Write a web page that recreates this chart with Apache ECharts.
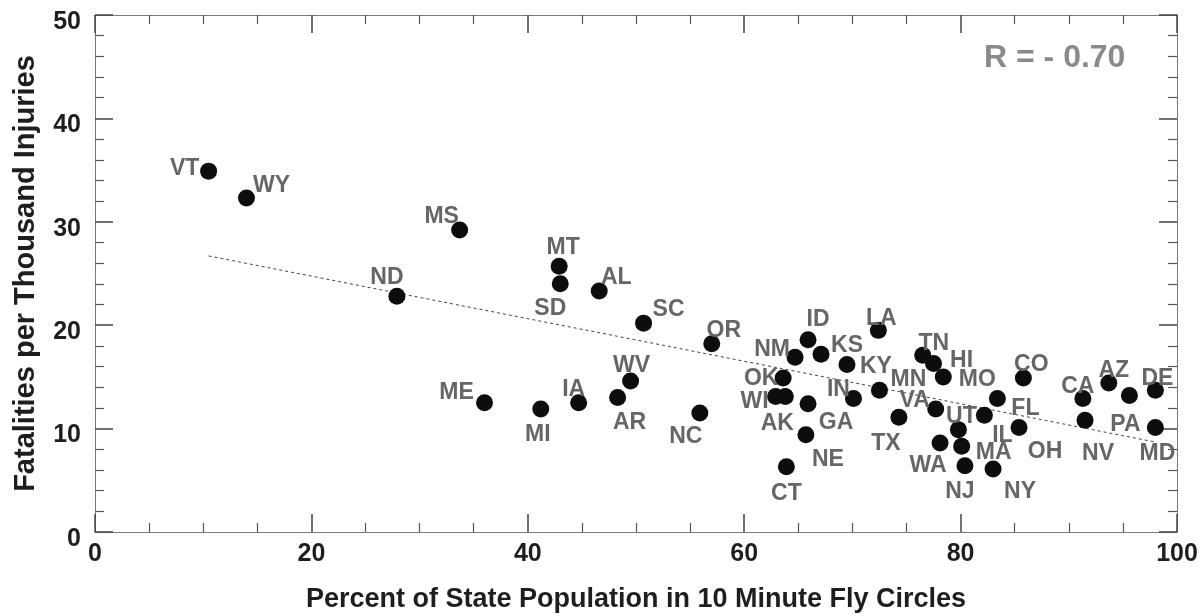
<!DOCTYPE html>
<html>
<head>
<meta charset="utf-8">
<script src="https://cdn.jsdelivr.net/npm/echarts@6/dist/echarts.min.js"></script>
<style>
html,body{margin:0;padding:0;background:#fff;}
#chart{width:1202px;height:616px;}
</style>
</head>
<body>
<div id="chart"></div>
<script>
// ---- data ----
var states = ['VT','WY','MS','ND','MT','SD','AL','SC','OR','WV','ME','MI','IA','AR','NC',
  'ID','NM','KS','KY','OK','WI','AK','GA','NE','CT','IN','MN','LA','TX','TN','HI','MO',
  'FL','IL','OH','VA','UT','WA','MA','NJ','NY','CO','CA','NV','AZ','PA','MD','DE'];
var pctInFlyCircles = [10.5,14.0,33.7,27.9,42.9,43.0,46.6,50.7,57.0,49.5,36.0,41.2,44.7,48.3,55.9,
  65.9,64.7,67.1,69.5,63.6,62.9,63.8,65.9,65.7,63.9,70.1,72.5,72.4,74.3,76.5,77.5,78.4,
  83.4,82.2,85.4,77.7,79.8,78.1,80.1,80.4,83.0,85.8,91.3,91.5,93.7,95.6,98.0,98.0];
var fatalitiesPerThousand = [34.9,32.3,29.2,22.8,25.7,24.0,23.3,20.2,18.2,14.6,12.5,11.9,12.5,13.0,11.5,
  18.6,16.9,17.2,16.2,14.9,13.1,13.1,12.4,9.4,6.3,12.9,13.7,19.5,11.1,17.1,16.3,15.0,
  12.9,11.3,10.1,11.9,9.9,8.6,8.3,6.4,6.1,14.9,12.9,10.8,14.4,13.2,10.1,13.7];
var trendX = [10.5, 98.0];
var trendY = [26.7, 8.7];
var xTicks = [0, 20, 40, 60, 80, 100];
var yTicks = [0, 10, 20, 30, 40, 50];
var rText = 'R = - 0.70';

// ---- label placement (style, pixel offsets from each dot) ----
var labelOffsets = {
  VT:[-24,-2], WY:[25,-12], MS:[-18,-13], ND:[-10,-19], MT:[4,-19], SD:[-10,25], AL:[17,-13],
  SC:[25,-13], OR:[12,-13], WV:[1,-15], ME:[-28,-10], MI:[-3,26], IA:[-5,-13], AR:[12,25],
  NC:[-14,24], ID:[10,-20], NM:[-23,-8], KS:[26,-8], KY:[29,2], OK:[-22,1], WI:[-21,5],
  AK:[-8,27], GA:[28,19], NE:[22,25], CT:[0,27], IN:[-15,-9], MN:[29,-11], LA:[3,-12],
  TX:[-13,26], TN:[11,-12], HI:[28,-3], MO:[34,3], FL:[28,10], IL:[18,20], OH:[26,24],
  VA:[-21,-8], UT:[3,-13], WA:[-12,23], MA:[32,6], NJ:[-5,26], NY:[27,23], CO:[8,-13],
  CA:[-5,-12], AZ:[5,-12], PA:[-4,29], DE:[2,-12], NV:[13,33], MD:[2,26]
};

var FONT = "'Liberation Sans', Arial, sans-serif";
var scatterData = states.map(function (s, i) {
  return {
    name: s,
    value: [pctInFlyCircles[i], fatalitiesPerThousand[i]],
    label: { offset: labelOffsets[s] || [0, -14] }
  };
});
var trendData = trendX.map(function (x, i) { return [x, trendY[i]]; });

function axisBase(showLabels, min, max, interval, minorSplit) {
  return {
    type: 'value', min: min, max: max, interval: interval,
    axisLine: { show: true, onZero: false, lineStyle: { color: '#7a7a7a', width: 1 } },
    axisTick: { show: true, inside: true, length: 18, lineStyle: { color: '#444', width: 1.5 } },
    minorTick: { show: true, splitNumber: minorSplit, length: 9, lineStyle: { color: '#555', width: 1.2 } },
    splitLine: { show: false },
    axisLabel: { show: showLabels }
  };
}

var xBottom = axisBase(true, xTicks[0], xTicks[xTicks.length - 1], xTicks[1] - xTicks[0], 4);
xBottom.position = 'bottom';
xBottom.name = 'Percent of State Population in 10 Minute Fly Circles';
xBottom.nameLocation = 'middle';
xBottom.nameGap = 54;
xBottom.nameTextStyle = { fontFamily: FONT, fontWeight: 'bold', fontSize: 27, color: '#1e1e1e' };
xBottom.axisLabel = { show: true, margin: 10, fontFamily: FONT, fontWeight: 'bold', fontSize: 25, color: '#1e1e1e' };
var xTop = axisBase(false, xTicks[0], xTicks[xTicks.length - 1], xTicks[1] - xTicks[0], 4);
xTop.position = 'top';

var yLeft = axisBase(true, yTicks[0], yTicks[yTicks.length - 1], yTicks[1] - yTicks[0], 5);
yLeft.position = 'left';
yLeft.name = 'Fatalities per Thousand Injuries';
yLeft.nameLocation = 'middle';
yLeft.nameGap = 55;
yLeft.nameTextStyle = { fontFamily: FONT, fontWeight: 'bold', fontSize: 29, color: '#1e1e1e' };
yLeft.axisLabel = { show: true, margin: 14, fontFamily: FONT, fontWeight: 'bold', fontSize: 25, color: '#1e1e1e', verticalAlign: 'top', lineHeight: 14 };
var yRight = axisBase(false, yTicks[0], yTicks[yTicks.length - 1], yTicks[1] - yTicks[0], 5);
yRight.position = 'right';

var chart = echarts.init(document.getElementById('chart'), null, { renderer: 'canvas' });
chart.setOption({
  animation: false,
  backgroundColor: '#ffffff',
  grid: { left: 95, right: 25, top: 15, bottom: 84, containLabel: false, outerBoundsMode: 'none' },
  xAxis: [xBottom, xTop],
  yAxis: [yLeft, yRight],
  graphic: [{
    type: 'text', left: 984, top: 42,
    style: { text: rText, fontFamily: FONT, fontWeight: 'bold', fontSize: 32, fill: '#8a8a8a' }
  }],
  series: [
    {
      type: 'line', xAxisIndex: 0, yAxisIndex: 0, data: trendData,
      symbol: 'none', silent: true, z: 1,
      lineStyle: { color: '#444', width: 1, type: [3, 3] }
    },
    {
      type: 'scatter', xAxisIndex: 0, yAxisIndex: 0, data: scatterData,
      symbol: 'circle', symbolSize: 17, z: 3,
      itemStyle: { color: '#0d0d0d', opacity: 1 },
      label: {
        show: true, position: 'inside', formatter: '{b}',
        fontFamily: FONT, fontWeight: 'bold', fontSize: 23, color: '#666666'
      }
    }
  ]
});
</script>
</body>
</html>
